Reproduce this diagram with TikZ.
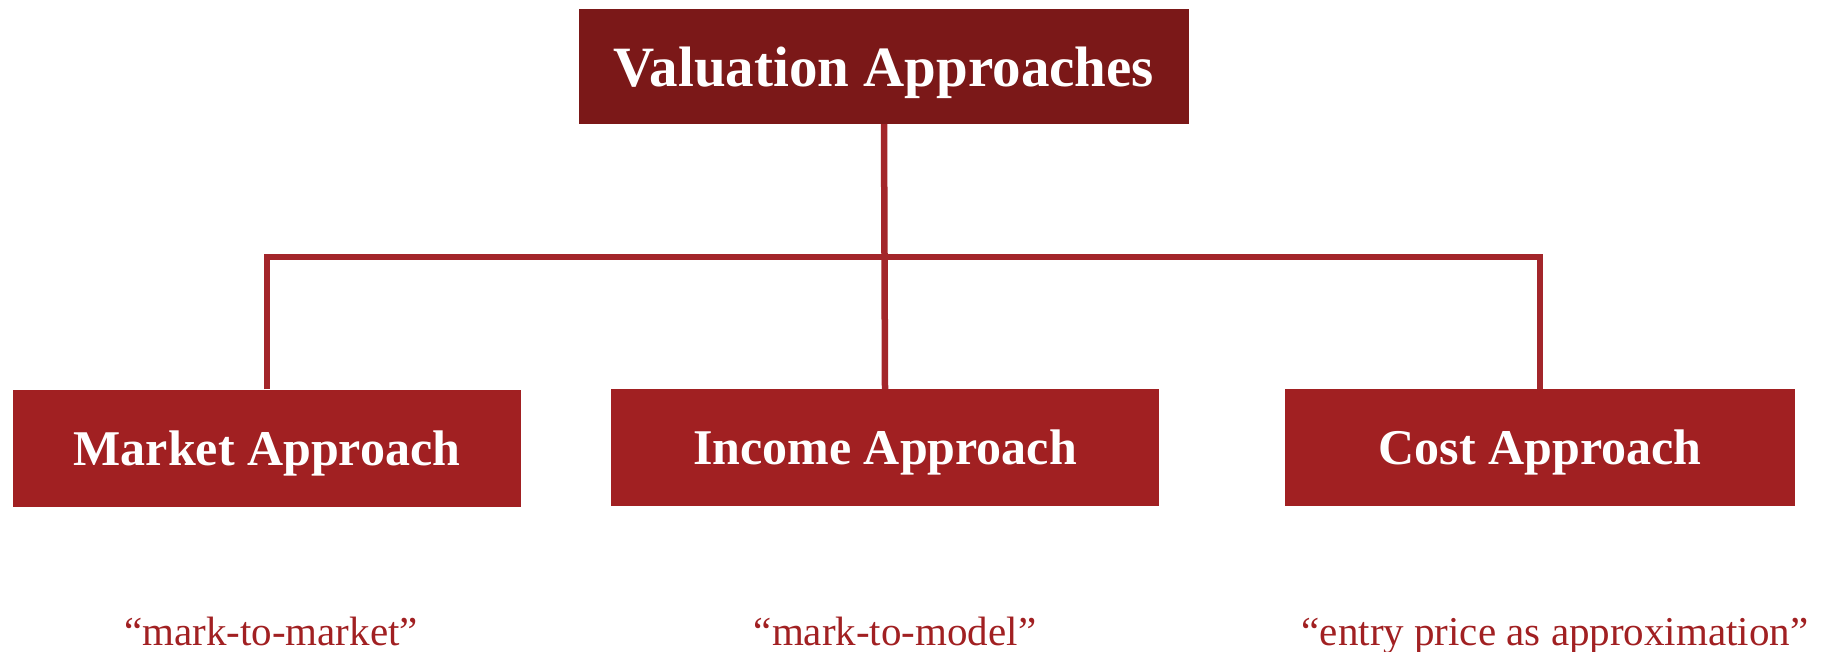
\documentclass[tikz,border=0pt]{standalone}
\usepackage{fontspec}
\setmainfont{Liberation Serif}
\definecolor{topred}{HTML}{7B1818}
\definecolor{boxred}{HTML}{A12022}
\definecolor{linered}{HTML}{A3262A}
\begin{document}
\begin{tikzpicture}[x=1pt,y=-1pt,
  topbox/.style={fill=topred, draw=none, text=white, inner sep=0pt, text depth=0pt,
    font=\bfseries\fontsize{57}{66}\selectfont},
  subbox/.style={fill=boxred, draw=none, text=white, inner sep=0pt, text depth=0pt,
    minimum height=117pt, font=\bfseries\fontsize{50}{60}\selectfont},
  quote/.style={text=boxred, inner sep=0pt, anchor=base,
    font=\fontsize{41}{48}\selectfont},
  conn/.style={draw=linered, line width=6.5pt}]
\useasboundingbox (0,0) rectangle (1822,652);
\node[topbox, minimum width=610pt, minimum height=115pt] (top) at (884,66.5) {Valuation Approaches};
\node[subbox, minimum width=508pt] (market) at (267,448) {Market Approach};
\node[subbox, minimum width=548pt] (income) at (885,447.5) {Income Approach};
\node[subbox, minimum width=510pt] (cost) at (1540,447.5) {Cost Approach};
\coordinate (hub) at (884,257);
\draw[conn] (top.south) -- (income.north);
\draw[conn] (market.north) |- (hub) -| (cost.north);
\node[quote] (q1) at (271,645) {“mark-to-market”};
\node[quote] (q2) at (895,645) {“mark-to-model”};
\node[quote] (q3) at (1555,645) {“entry price as approximation”};
\end{tikzpicture}
\end{document}
